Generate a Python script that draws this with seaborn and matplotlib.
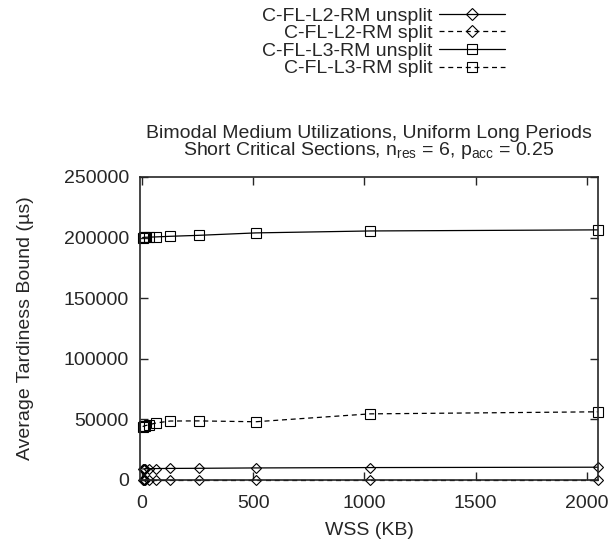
import numpy as np
import pandas as pd
import seaborn as sns
from matplotlib import pyplot as plt

sns.set_style("ticks")
plt.rcParams['font.family'] = ['Liberation Sans', 'DejaVu Sans']
plt.rcParams['mathtext.fontset'] = 'custom'
plt.rcParams['mathtext.rm'] = 'Liberation Sans'
plt.rcParams['mathtext.it'] = 'Liberation Sans:italic'
fs = 14
plt.rcParams['font.size'] = fs

# WSS sizes (KB)
wss = [4, 8, 16, 32, 64, 128, 256, 512, 1024, 2048]

series_names = ["C-FL-L2-RM unsplit", "C-FL-L2-RM split",
                "C-FL-L3-RM unsplit", "C-FL-L3-RM split"]

l2_unsplit = [9000, 9100, 9200, 9300, 9400, 9500, 9600, 9900, 10200, 10500]
l2_split = [300, 300, 300, 300, 300, 300, 300, 300, 300, 300]
l3_unsplit = [200000, 200100, 200200, 200300, 200500, 201000, 201800, 203800, 205400, 206300]
l3_split = [44000, 44300, 44800, 45500, 47000, 48600, 48700, 48000, 54500, 56200]

rows = []
for name, vals in zip(series_names, [l2_unsplit, l2_split, l3_unsplit, l3_split]):
    for x, y in zip(wss, vals):
        rows.append([name, x, y])
df = pd.DataFrame(rows, columns=["Series", "WSS", "Tardiness"])

fig = plt.figure(figsize=(6.1, 5.46), dpi=100)
ax = fig.add_axes([0.2295, 0.121, 0.751, 0.555])

palette = {n: "black" for n in series_names}
markers = {series_names[0]: "D", series_names[1]: "D",
           series_names[2]: "s", series_names[3]: "s"}
dashes = {series_names[0]: "", series_names[1]: (4, 3),
          series_names[2]: "", series_names[3]: (4, 3)}

sns.lineplot(data=df, x="WSS", y="Tardiness", hue="Series", style="Series",
             palette=palette, markers=markers, dashes=dashes, linewidth=0.9,
             markersize=6.5, ax=ax, clip_on=False, legend=True)

for line in ax.lines:
    line.set_markerfacecolor("none")
    line.set_markeredgecolor("black")
    line.set_markeredgewidth(0.8)
    line.set_clip_on(False)
ax.lines[0].set_markersize(5.5)
ax.lines[1].set_markersize(5.5)

ax.set_xlim(-8, 2050)
ax.set_ylim(0, 250000)
ax.set_xticks([0, 500, 1000, 1500, 2000])
ax.set_yticks([0, 50000, 100000, 150000, 200000, 250000])
ax.ticklabel_format(style='plain', axis='y')
ax.tick_params(direction='in', top=True, right=True, length=6, width=1,
               labelsize=fs, pad=8)
ax.tick_params(axis='x', pad=11)
for sp in ax.spines.values():
    sp.set_linewidth(1.2)
    sp.set_visible(True)

ax.set_xlabel("WSS (KB)", fontsize=fs, labelpad=7)
ax.set_ylabel("Average Tardiness Bound (µs)", fontsize=fs, labelpad=21)
ax.set_title("Bimodal Medium Utilizations, Uniform Long Periods\n"
             r"Short Critical Sections, n$_\mathrm{res}$ = 6, p$_\mathrm{acc}$ = 0.25",
             fontsize=fs, linespacing=0.85, pad=16)

handles, labels = ax.get_legend_handles_labels()
leg = fig.legend(handles, labels, loc='upper right', bbox_to_anchor=(0.843, 1.005),
                 frameon=False, markerfirst=False, handlelength=3.35,
                 handletextpad=0.35, labelspacing=0.0, borderpad=0.0, fontsize=fs)
ax.get_legend().remove()

fig.savefig("out.png", dpi=100)
